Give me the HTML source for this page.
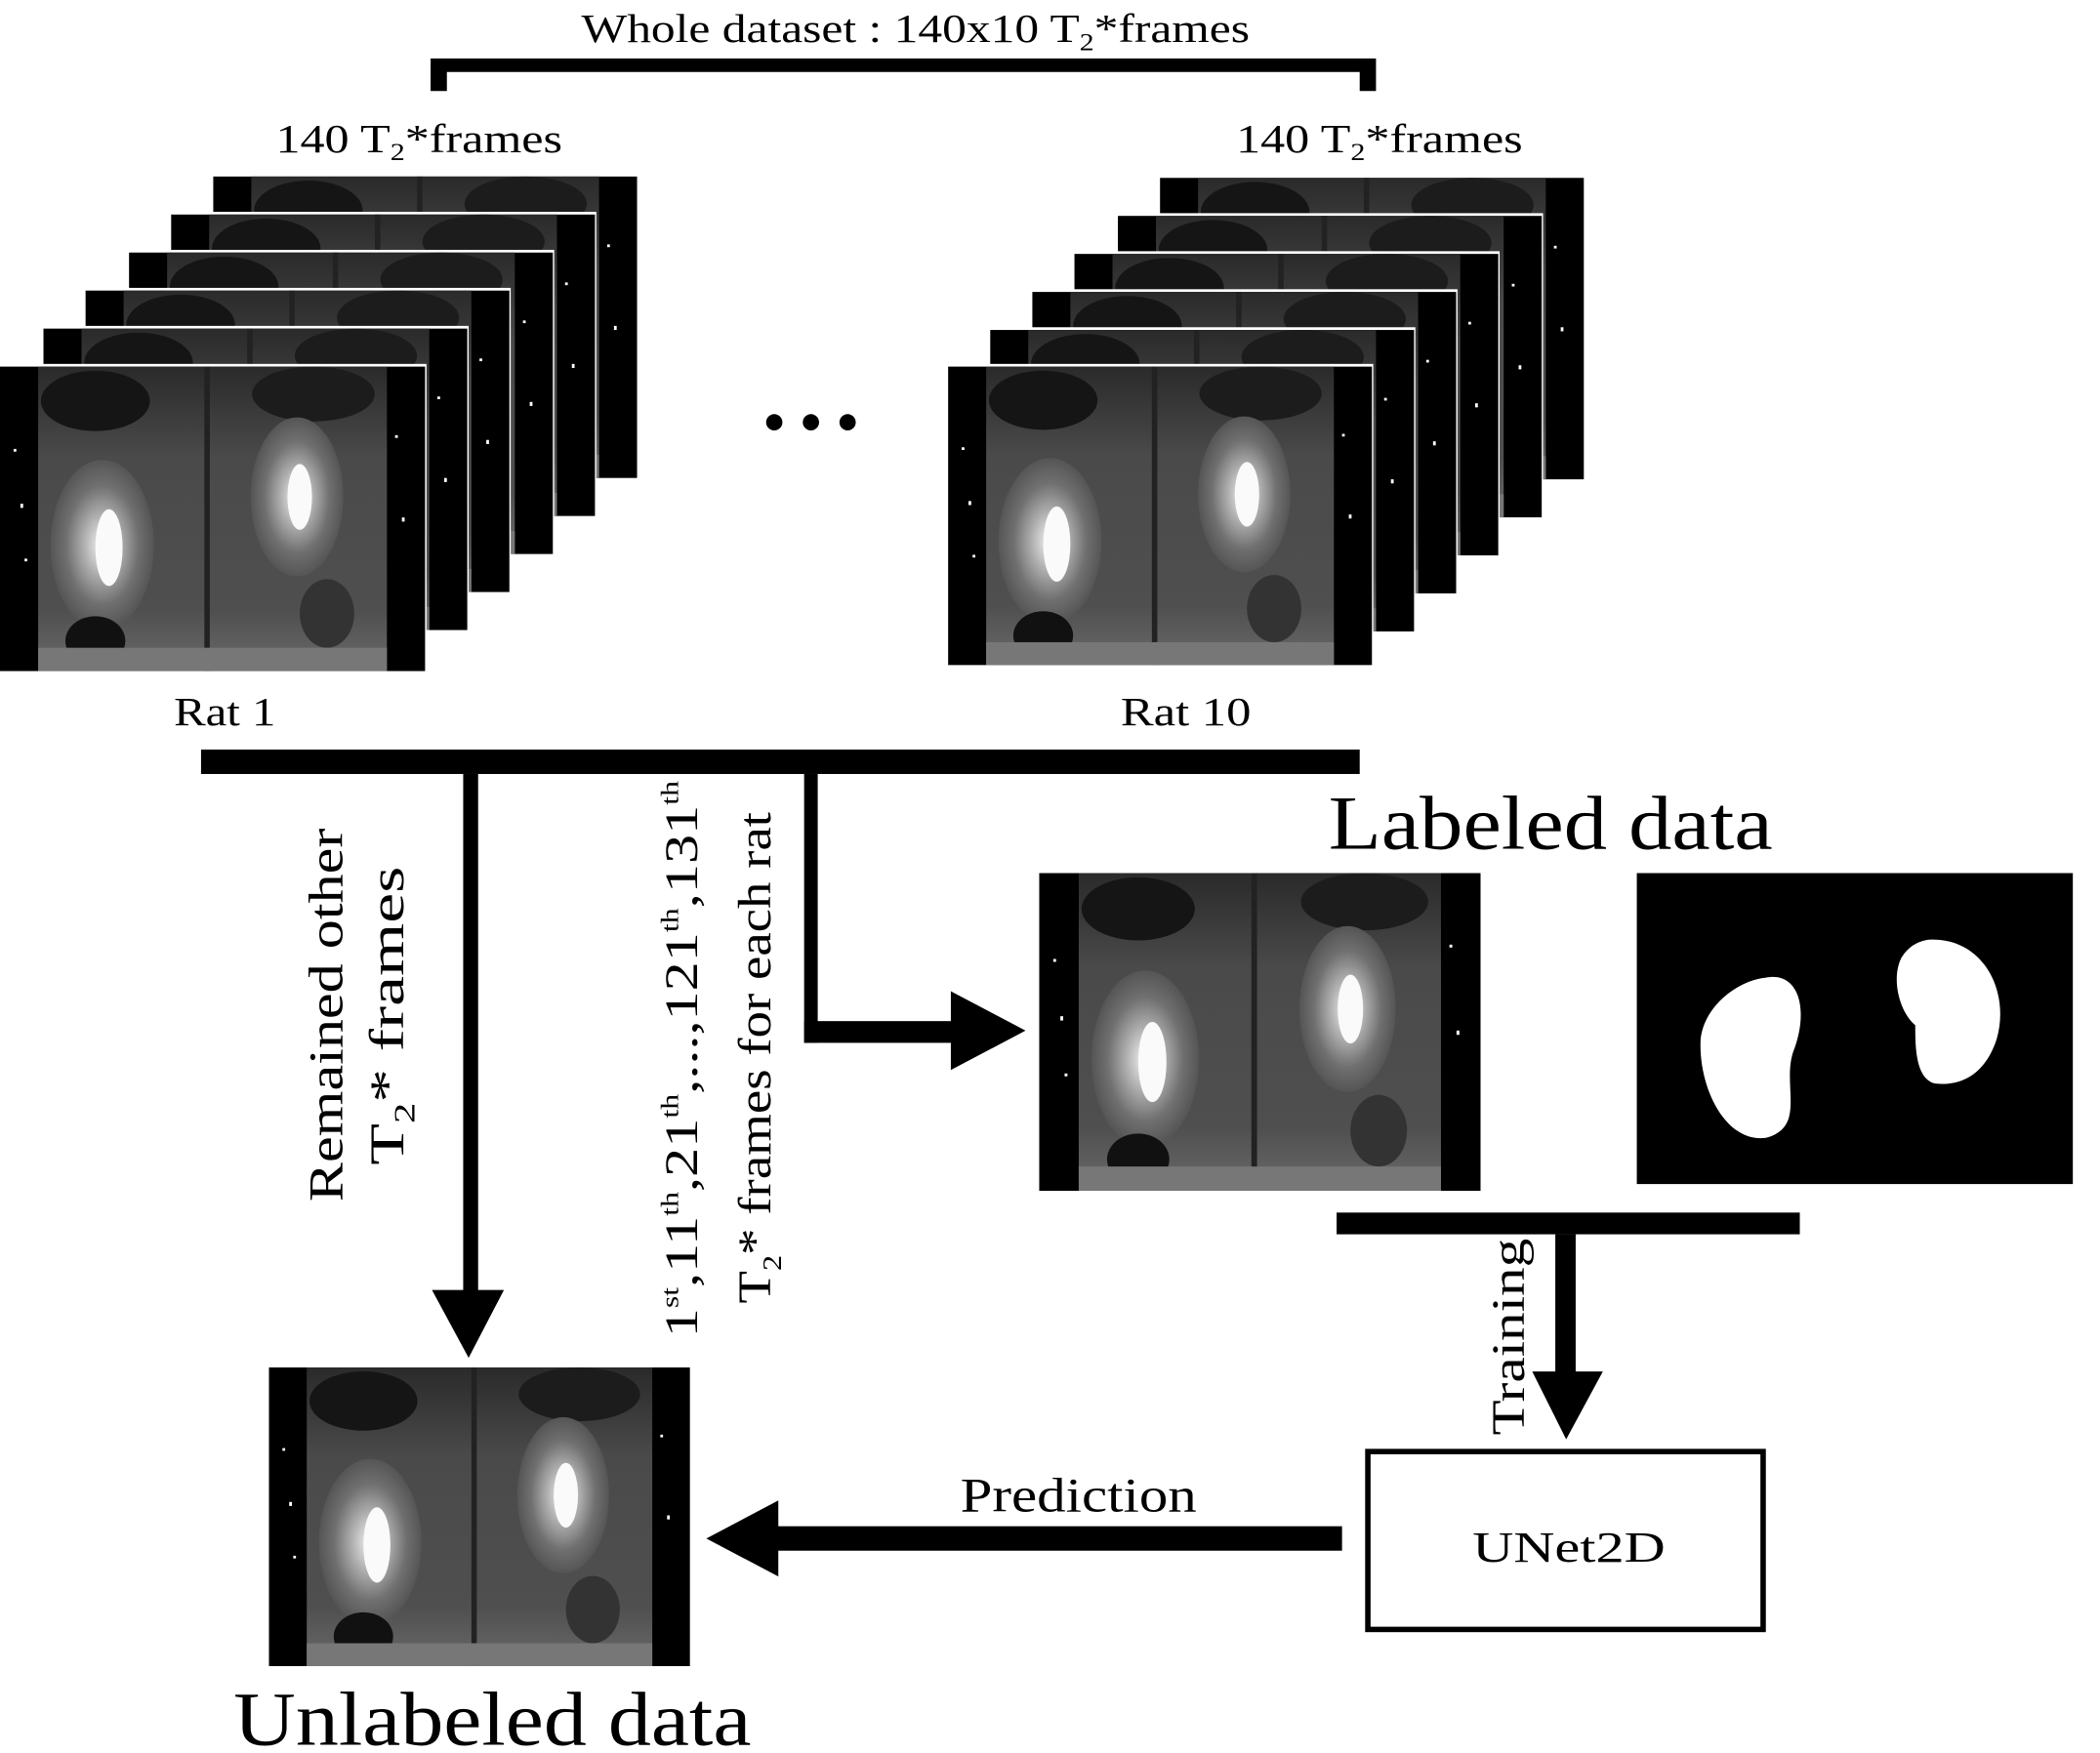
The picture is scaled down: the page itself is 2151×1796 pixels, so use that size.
<!DOCTYPE html>
<html><head><meta charset="utf-8"><style>
html,body{margin:0;padding:0;background:#fff;}
svg{display:block;}
text{font-family:"Liberation Serif",serif;fill:#000;}
</style></head><body>
<svg width="2151" height="1796" viewBox="0 0 1546 1291" preserveAspectRatio="none" xmlns="http://www.w3.org/2000/svg">
<defs>
<radialGradient id="kid" cx="50%" cy="50%" r="50%">
<stop offset="0" stop-color="#f4f4f4"/><stop offset="0.35" stop-color="#b0b0b0"/><stop offset="0.7" stop-color="#707070"/><stop offset="1" stop-color="#555"/>
</radialGradient>
<linearGradient id="body" x1="0" y1="0" x2="0" y2="1">
<stop offset="0" stop-color="#2a2a2a"/><stop offset="0.3" stop-color="#4a4a4a"/><stop offset="0.8" stop-color="#4f4f4f"/><stop offset="1" stop-color="#6a6a6a"/>
</linearGradient>
<g id="brain">
<rect x="0" y="0" width="312" height="222" fill="#000"/>
<rect x="28" y="0" width="256" height="222" fill="url(#body)"/>
<ellipse cx="70" cy="25" rx="40" ry="22" fill="#151515"/>
<ellipse cx="230" cy="20" rx="45" ry="20" fill="#1c1c1c"/>
<rect x="150" y="0" width="4" height="222" fill="#222"/>
<ellipse cx="75" cy="130" rx="38" ry="62" fill="url(#kid)"/>
<ellipse cx="218" cy="95" rx="34" ry="58" fill="url(#kid)"/>
<ellipse cx="80" cy="132" rx="10" ry="28" fill="#fafafa"/>
<ellipse cx="220" cy="95" rx="9" ry="24" fill="#fafafa"/>
<ellipse cx="70" cy="200" rx="22" ry="18" fill="#111"/>
<ellipse cx="240" cy="180" rx="20" ry="25" fill="#333"/>
<rect x="28" y="205" width="256" height="17" fill="#777"/>
<rect x="10" y="60" width="2" height="2" fill="#fff"/><rect x="15" y="100" width="2" height="3" fill="#fff"/><rect x="18" y="140" width="2" height="2" fill="#fff"/><rect x="290" y="50" width="2" height="2" fill="#fff"/><rect x="295" y="110" width="2" height="3" fill="#fff"/>
</g>
</defs>

<!-- title -->
<text x="428" y="31" font-size="30" textLength="492" lengthAdjust="spacingAndGlyphs">Whole dataset : 140x10 T<tspan font-size="18" dy="6">2</tspan><tspan dy="-6">*frames</tspan></text>
<path d="M317 43 H1013 V67 H1001 V53 H329 V67 H317 Z" fill="#000"/>

<text x="203" y="112" font-size="30" textLength="211" lengthAdjust="spacingAndGlyphs">140 T<tspan font-size="18" dy="6">2</tspan><tspan dy="-6">*frames</tspan></text>
<text x="910" y="112" font-size="30" textLength="211" lengthAdjust="spacingAndGlyphs">140 T<tspan font-size="18" dy="6">2</tspan><tspan dy="-6">*frames</tspan></text>

<!-- left stack -->
<g stroke="#fff" stroke-width="2">
<use href="#brain" transform="translate(157,129) scale(1,1.0)"/>
<use href="#brain" transform="translate(126,157)"/>
<use href="#brain" transform="translate(95,185)"/>
<use href="#brain" transform="translate(63,213)"/>
<use href="#brain" transform="translate(32,241)"/>
</g>
<rect x="157" y="129" width="312" height="223" fill="none"/>
<g>
<rect x="156" y="128" width="314" height="225" fill="#fff"/><use href="#brain" transform="translate(157,130)"/>
<rect x="125" y="156" width="314" height="225" fill="#fff"/><use href="#brain" transform="translate(126,158)"/>
<rect x="94" y="184" width="314" height="225" fill="#fff"/><use href="#brain" transform="translate(95,186)"/>
<rect x="62" y="212" width="314" height="225" fill="#fff"/><use href="#brain" transform="translate(63,214)"/>
<rect x="31" y="240" width="314" height="225" fill="#fff"/><use href="#brain" transform="translate(32,242)"/>
<rect x="-1" y="268" width="315" height="228" fill="#fff"/><use href="#brain" transform="translate(0,270) scale(1.003,1.01)"/>
</g>

<!-- dots -->
<circle cx="570" cy="311" r="6"/><circle cx="597" cy="311" r="6"/><circle cx="624" cy="311" r="6"/>

<!-- right stack -->
<g>
<rect x="853" y="129" width="314" height="225" fill="#fff"/><use href="#brain" transform="translate(854,131)"/>
<rect x="822" y="157" width="314" height="225" fill="#fff"/><use href="#brain" transform="translate(823,159)"/>
<rect x="790" y="185" width="314" height="225" fill="#fff"/><use href="#brain" transform="translate(791,187)"/>
<rect x="759" y="213" width="314" height="225" fill="#fff"/><use href="#brain" transform="translate(760,215)"/>
<rect x="728" y="241" width="314" height="225" fill="#fff"/><use href="#brain" transform="translate(729,243)"/>
<rect x="697" y="268" width="314" height="224" fill="#fff"/><use href="#brain" transform="translate(698,270) scale(1,0.99)"/>
</g>

<text x="128" y="534" font-size="30" textLength="75" lengthAdjust="spacingAndGlyphs">Rat 1</text>
<text x="825" y="534" font-size="30" textLength="96" lengthAdjust="spacingAndGlyphs">Rat 10</text>

<!-- split bar -->
<rect x="148" y="552" width="853" height="18" fill="#000"/>
<rect x="341" y="570" width="11" height="382" fill="#000"/>
<polygon points="318,950 371,950 345,1000" fill="#000"/>
<rect x="592" y="570" width="10" height="198" fill="#000"/>
<rect x="592" y="752" width="112" height="16" fill="#000"/>
<polygon points="700,730 700,788 755,759" fill="#000"/>

<!-- rotated labels -->
<text transform="translate(252,885) rotate(-90)" font-size="36" textLength="275" lengthAdjust="spacingAndGlyphs">Remained other</text>
<text transform="translate(297,858) rotate(-90)" font-size="36" textLength="220" lengthAdjust="spacingAndGlyphs">T<tspan font-size="22" dy="8">2</tspan><tspan dy="-8">* frames</tspan></text>
<text transform="translate(513,985) rotate(-90)" font-size="34" textLength="410" lengthAdjust="spacingAndGlyphs">1<tspan font-size="18" dy="-14">st</tspan><tspan dy="14">,11</tspan><tspan font-size="18" dy="-14">th</tspan><tspan dy="14">,21</tspan><tspan font-size="18" dy="-14">th</tspan><tspan dy="14">,...,121</tspan><tspan font-size="18" dy="-14">th</tspan><tspan dy="14">,131</tspan><tspan font-size="18" dy="-14">th</tspan></text>
<text transform="translate(567,960) rotate(-90)" font-size="34" textLength="362" lengthAdjust="spacingAndGlyphs">T<tspan font-size="20" dy="8">2</tspan><tspan dy="-8">* frames for each rat</tspan></text>

<text x="978" y="625" font-size="56" textLength="327" lengthAdjust="spacingAndGlyphs">Labeled data</text>

<!-- labeled image -->
<svg x="765" y="643" width="325" height="234" viewBox="0 0 312 222" preserveAspectRatio="none"><use href="#brain"/></svg>
<!-- mask -->
<rect x="1205" y="643" width="321" height="229" fill="#000"/>
<path d="M1300 720 C1325 715 1332 745 1320 775 C1312 800 1330 830 1300 838 C1270 842 1250 800 1252 765 C1255 740 1280 722 1300 720 Z" fill="#fff"/>
<path d="M1420 692 C1460 690 1480 730 1470 765 C1462 790 1445 800 1425 798 C1410 795 1410 770 1410 755 C1398 745 1392 720 1400 705 C1405 697 1412 693 1420 692 Z" fill="#fff"/>

<!-- training -->
<rect x="984" y="893" width="341" height="16" fill="#000"/>
<rect x="1145" y="909" width="15" height="103" fill="#000"/>
<polygon points="1128,1010 1180,1010 1153,1060" fill="#000"/>
<text transform="translate(1122,1057) rotate(-90)" font-size="34" textLength="145" lengthAdjust="spacingAndGlyphs">Training</text>

<rect x="1007" y="1069" width="291" height="131" fill="none" stroke="#000" stroke-width="4"/>
<text x="1155" y="1150" font-size="32" text-anchor="middle" textLength="142" lengthAdjust="spacingAndGlyphs">UNet2D</text>

<!-- prediction -->
<rect x="570" y="1124" width="418" height="18" fill="#000"/>
<polygon points="520,1133 573,1105 573,1161" fill="#000"/>
<text x="707" y="1113" font-size="36" textLength="174" lengthAdjust="spacingAndGlyphs">Prediction</text>

<!-- unlabeled image -->
<svg x="198" y="1007" width="310" height="220" viewBox="0 0 312 222" preserveAspectRatio="none"><use href="#brain"/></svg>
<text x="172" y="1285" font-size="56" textLength="381" lengthAdjust="spacingAndGlyphs">Unlabeled data</text>
</svg>
</body></html>
